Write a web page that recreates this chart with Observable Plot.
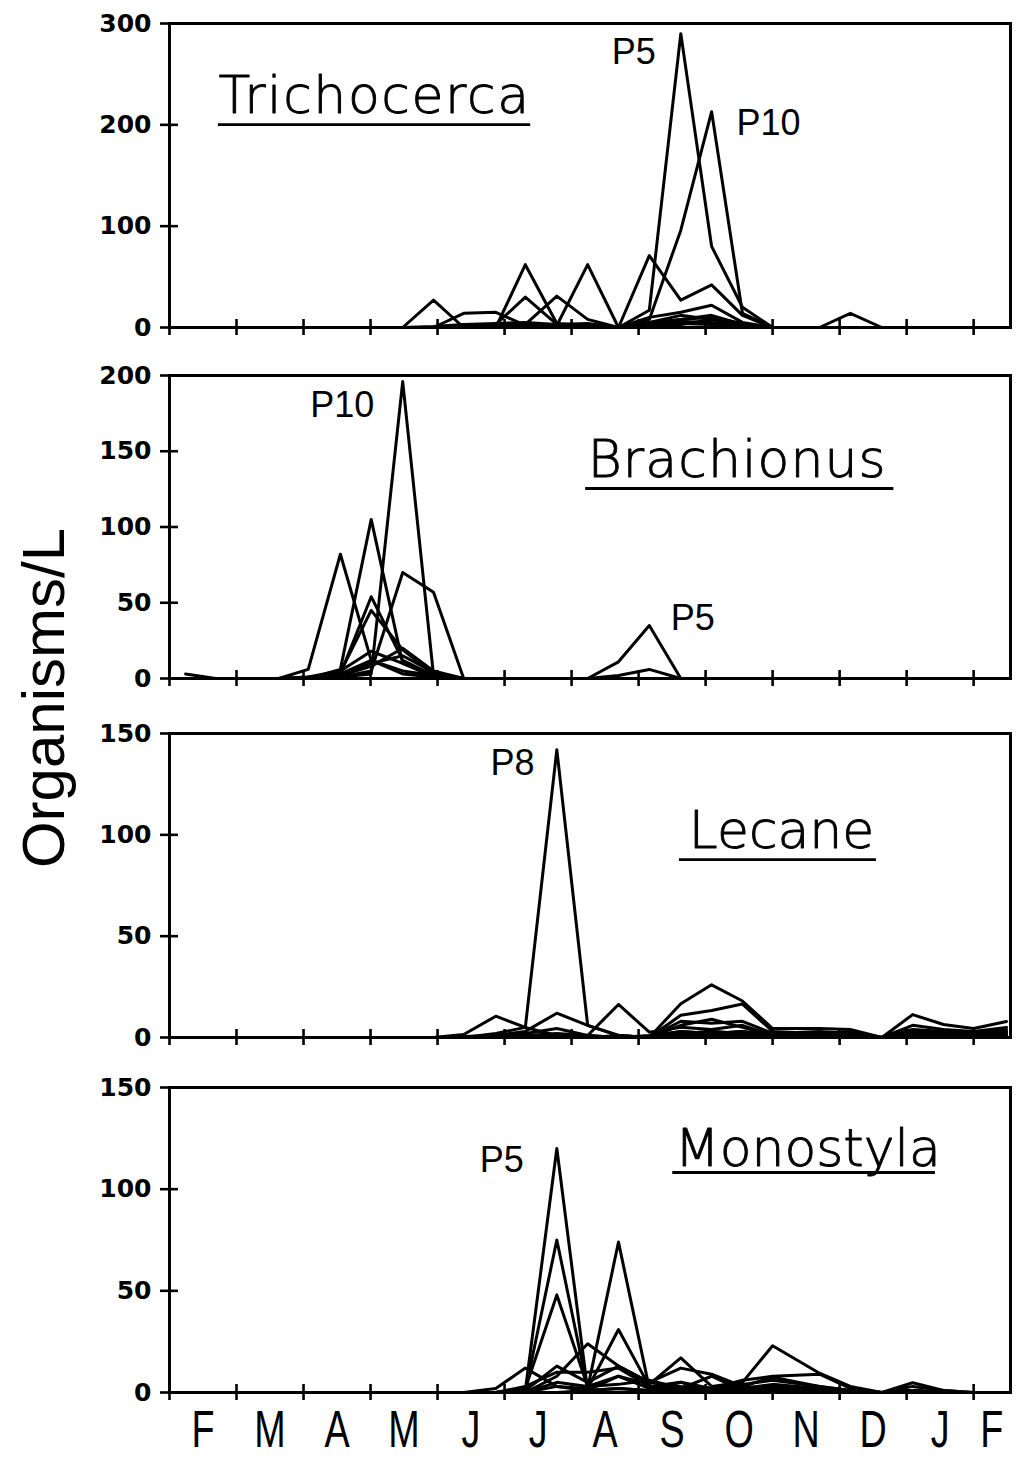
<!DOCTYPE html>
<html><head><meta charset="utf-8">
<script src="https://cdn.jsdelivr.net/npm/d3@7"></script>
<script src="https://cdn.jsdelivr.net/npm/@observablehq/plot@0.6"></script>
<style>
html,body{margin:0;padding:0;background:#fff;}
#chart{position:relative;width:1026px;height:1458px;background:#fff;overflow:hidden;}
#chart > svg{position:absolute;left:0;}
</style></head><body><div id="chart"></div>
<script>
// Stations
const stations = ["P1","P2","P3","P4","P5","P6","P7","P8","P9","P10"];
// Sampling dates, in months since 1 February
const sampleMonth = [0.24,0.69,1.15,1.63,2.07,2.55,3.01,3.48,3.94,4.39,4.87,5.31,5.78,6.24,6.70,7.16,7.63,8.09,8.55,9.00,9.70,10.16,10.63,11.09,11.55,12.00,12.49];
// Month boundaries (tick marks) and month letters
const monthTicks = [0,1,2,3,4,5,6,7,8,9,10,11,12];
const monthNames = ["F","M","A","M","J","J","A","S","O","N","D","J","F"];
const monthLabelPos = [0.5,1.5,2.5,3.5,4.5,5.5,6.5,7.5,8.5,9.5,10.5,11.5,12.27];

// Organisms/L per station (rows P1..P10)
const trichocerca = [
  [0,0,0,0,0,0,0,0,27,0,1,2,1,0,0,2,4,3,1,0,0,0,0,0,0,0,0],
  [0,0,0,0,0,0,0,0,0,14,15,2,1,1,0,3,6,5,2,0,0,0,0,0,0,0,0],
  [0,0,0,0,0,0,0,0,0,1,0,62,4,2,0,1,3,8,2,0,0,0,0,0,0,0,0],
  [0,0,0,0,0,0,0,0,0,2,3,30,3,1,0,5,12,8,3,0,0,0,0,0,0,0,0],
  [0,0,0,0,0,0,0,0,1,3,4,5,3,4,0,17,290,80,20,0,0,0,0,0,0,0,0],
  [0,0,0,0,0,0,0,0,0,1,2,3,31,8,0,10,15,22,5,0,0,0,0,0,0,0,0],
  [0,0,0,0,0,0,0,0,0,0,1,2,2,62,0,5,8,12,3,0,0,0,0,0,0,0,0],
  [0,0,0,0,0,0,0,0,0,0,1,1,2,3,0,71,27,42,12,0,0,0,0,0,0,0,0],
  [0,0,0,0,0,0,0,0,0,0,0,1,1,2,0,3,8,10,4,0,0,14,0,0,0,0,0],
  [0,0,0,0,0,0,0,0,0,0,0,1,1,1,0,8,96,213,14,0,0,0,0,0,0,0,0]
];
const brachionus = [
  [3,0,0,0,6,82,12,3,1,0,0,0,0,0,0,0,0,0,0,0,0,0,0,0,0,0,0],
  [0,0,0,0,0,6,105,10,1,0,0,0,0,0,0,0,0,0,0,0,0,0,0,0,0,0,0],
  [0,0,0,0,1,3,54,12,2,0,0,0,0,0,0,0,0,0,0,0,0,0,0,0,0,0,0],
  [0,0,0,0,0,4,45,19,3,0,0,0,0,0,0,0,0,0,0,0,0,0,0,0,0,0,0],
  [0,0,0,0,0,2,10,15,4,0,0,0,0,0,11,35,0,0,0,0,0,0,0,0,0,0,0],
  [0,0,0,0,0,3,12,5,2,0,0,0,0,0,2,6,0,0,0,0,0,0,0,0,0,0,0],
  [0,0,0,0,1,5,18,10,2,0,0,0,0,0,0,0,0,0,0,0,0,0,0,0,0,0,0],
  [0,0,0,0,0,1,5,70,57,0,0,0,0,0,0,0,0,0,0,0,0,0,0,0,0,0,0],
  [0,0,0,0,0,2,8,20,5,0,0,0,0,0,0,0,0,0,0,0,0,0,0,0,0,0,0],
  [0,0,0,0,0,1,3,196,2,0,0,0,0,0,0,0,0,0,0,0,0,0,0,0,0,0,0]
];
const lecane = [
  [0,0,0,0,0,0,0,0,0,1.5,10.5,5,1,0,0,0,2,3,2,1,1,1,0,2,1,1,1],
  [0,0,0,0,0,0,0,0,0,0.5,1,3,12,6,1,0,3,2,3,1,2,1,0,1,2,1,2],
  [0,0,0,0,0,0,0,0,0,0,0.5,2,4.4,1,16.3,2.6,5,4,6,1,1,2,0,3,2,2,3],
  [0,0,0,0,0,0,0,0,0,0,0,1,2,1,0,0,11,13.3,16.5,3,2,3,0,6,4,3,5],
  [0,0,0,0,0,0,0,0,0,0,0,1,1,0,1,0,16.7,26,18,4.4,4.4,4,0,11.3,6.4,4.4,7.9],
  [0,0,0,0,0,0,0,0,0,0,0,0,1,1,0,0,8,7,8,2,3,2,0,4,3,2,4],
  [0,0,0,0,0,0,0,0,0,0,0,0,1,0,0,1,3,2,3,1,1,1,0,2,1,2,2],
  [0,0,0,0,0,0,0,0,0,0,2,5,142,6,1,0,2,3,2,1,2,1,0,3,2,2,3],
  [0,0,0,0,0,0,0,0,0,0,0,0,0,0,0,0,6,9,5,1,1,1,0,1,1,1,1],
  [0,0,0,0,0,0,0,0,0,0,0,0,0,0,0,0,1,1,1,0,0,0,0,0,0,0,0]
];
const monostyla = [
  [0,0,0,0,0,0,0,0,0,0,2,12,3,1,2,1,2,1,1,2,1,0,0,1,0,0,0],
  [0,0,0,0,0,0,0,0,0,0,0,1,75,2,31,3,2,1,3,2,1,0,0,0,0,0,0],
  [0,0,0,0,0,0,0,0,0,0,0,2,48,3,8,2,1,1,2,1,0,0,0,0,0,0,0],
  [0,0,0,0,0,0,0,0,0,0,0,1,13,5,13,5,3,2,4,6,3,1,0,1,0,0,0],
  [0,0,0,0,0,0,0,0,0,0,0,1,120,1,8,4,17,3,5,23,9.5,3,0,4.8,1,0,0],
  [0,0,0,0,0,0,0,0,0,0,0,0,8,24,13,5,12,9,3,7.5,3,1,0,1,0,0,0],
  [0,0,0,0,0,0,0,0,0,0,0,0,3,2,74,2,5,2,1,3,1,0,0,0,0,0,0],
  [0,0,0,0,0,0,0,0,0,0,0,3,10,10,12,3,5,1,2,4,2,0,0,1,0,0,0],
  [0,0,0,0,0,0,0,0,0,0,0,0,0,1,2,1,1,2,6,8,9,2,0,3,1,0,0],
  [0,0,0,0,0,0,0,0,0,0,0,0,5,3,4,6,2,8,1,2,1,0,0,0,0,0,0]
];

const yTicks1 = [0,100,200,300];
const yTicks2 = [0,50,100,150,200];
const yTicks34 = [0,50,100,150];

function rowsOf(series) {
  return series.flatMap((vals, s) => vals.map((v, i) => ({station: stations[s], m: sampleMonth[i], v})));
}

const LW = 3;
const labelFont = "Liberation Sans, Arial, sans-serif";
const tickFont = "DejaVu Sans, sans-serif";
const titleFont = "DejaVu Sans, sans-serif";

function species(name, x, y, ux1, ux2, uy) {
  return [
    Plot.text([name], {x: () => x, y: () => y, textAnchor: "start", lineAnchor: "bottom",
      fontSize: 52, fontFamily: titleFont, fontWeight: 200, fill: "black",
      stroke: "black", strokeWidth: 0.9}),
    Plot.ruleY([uy], {y: d => d, x1: () => ux1, x2: () => ux2, stroke: "black", strokeWidth: 2.8})
  ];
}
function station(name, x, y) {
  return Plot.text([name], {x: () => x, y: () => y, textAnchor: "start", lineAnchor: "bottom",
    fontSize: 36, fontFamily: labelFont, fill: "black"});
}

// letter spacing of the species titles (geometric lettering is wider)
const titleSpacing = {Trichocerca: "1.6px", Brachionus: "1.1px", Lecane: "0px", Monostyla: "0px"};

function panel({series, yMax, yTicks, frameTop, frameBottom, marginBottom = 20, extra = []}) {
  const marginTop = 20;
  const svg = Plot.plot({
    width: 1026,
    height: marginTop + (frameBottom - frameTop) + marginBottom,
    marginLeft: 169, marginRight: 16, marginTop, marginBottom,
    x: {domain: [0, 12.55], axis: null},
    y: {domain: [0, yMax], axis: null},
    style: {background: "transparent", overflow: "visible", fontFamily: labelFont},
    marks: [
      Plot.line(rowsOf(series), {x: "m", y: "v", z: "station", stroke: "black", strokeWidth: LW, strokeLinejoin: "round"}),
      Plot.frame({stroke: "black", strokeWidth: LW}),
      Plot.ruleX(monthTicks, {x: d => d, y1: () => 0, y2: () => 0, insetTop: 8, insetBottom: 8, stroke: "black", strokeWidth: 2.6}),
      Plot.ruleY(yTicks, {y: d => d, x1: () => 0, x2: () => 0, insetLeft: 9, insetRight: 9, stroke: "black", strokeWidth: 2.6}),
      Plot.axisY(yTicks, {tickSize: 0, tickPadding: 18, fontSize: 25, fontWeight: "bold", label: null, fontFamily: tickFont}),
      ...extra
    ]
  });
  svg.style.top = (frameTop - marginTop) + "px";
  d3.select(svg).selectAll("g[font-size='52'] text").each(function() {
    const s = titleSpacing[this.textContent];
    if (s) this.style.letterSpacing = s;
  });
  return svg;
}

const chart = document.getElementById("chart");

chart.appendChild(panel({
  series: trichocerca, yMax: 300, yTicks: yTicks1, frameTop: 23, frameBottom: 327,
  extra: [
    ...species("Trichocerca", 0.73, 212, 0.73, 5.39, 200.3),
    station("P5", 6.6, 260),
    station("P10", 8.46, 189.5)
  ]
}));
chart.appendChild(panel({
  series: brachionus, yMax: 200, yTicks: yTicks2, frameTop: 375, frameBottom: 678,
  extra: [
    ...species("Brachionus", 6.24, 133.3, 6.21, 10.81, 125.4),
    station("P10", 2.10, 172.3),
    station("P5", 7.48, 31.7)
  ]
}));
chart.appendChild(panel({
  series: lecane, yMax: 150, yTicks: yTicks34, frameTop: 733, frameBottom: 1037,
  extra: [
    ...species("Lecane", 7.75, 93.3, 7.61, 10.55, 87.8),
    station("P8", 4.79, 129.3)
  ]
}));
const last = panel({
  series: monostyla, yMax: 150, yTicks: yTicks34, frameTop: 1087, frameBottom: 1392, marginBottom: 66,
  extra: [
    ...species("Monostyla", 7.54, 111.6, 7.51, 11.43, 108.2),
    station("P5", 4.63, 108.2),
    Plot.text(monthNames, {x: (d, i) => monthLabelPos[i], y: () => 0, text: d => d, lineAnchor: "top", dy: 18,
      fontSize: 51, fontFamily: labelFont, fill: "black"})
  ]
});
chart.appendChild(last);
// condense the month letters horizontally (tall narrow lettering)
d3.select(last).selectAll("g[font-size='51'] text").each(function() {
  const t = this.getAttribute("transform");
  if (t) {
    this.setAttribute("transform", t + " scale(0.74,1)");
  } else {
    const x = this.getAttribute("x") || 0, y = this.getAttribute("y") || 0;
    this.removeAttribute("x"); this.removeAttribute("y");
    this.setAttribute("transform", `translate(${x},${y}) scale(0.74,1)`);
  }
});

// Rotated y-axis title
const overlay = d3.create("svg").attr("width", 1026).attr("height", 1458)
  .style("position", "absolute").style("top", "0px").style("left", "0px").style("pointer-events", "none");
overlay.append("text")
  .attr("transform", "translate(64,698) rotate(-90)")
  .attr("text-anchor", "middle")
  .attr("font-family", labelFont)
  .attr("font-size", 60)
  .attr("fill", "black")
  .text("Organisms/L");
chart.appendChild(overlay.node());
</script></body></html>
